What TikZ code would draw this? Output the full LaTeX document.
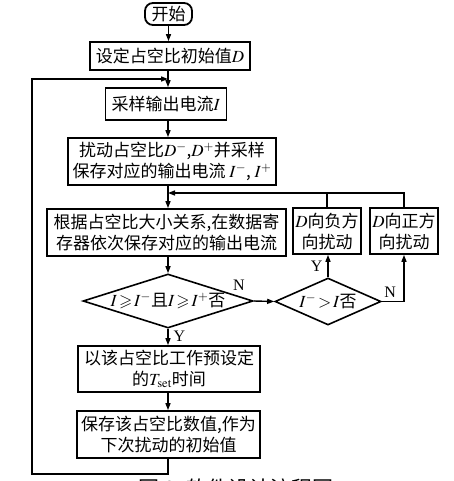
\documentclass[tikz,border=0pt]{standalone}
\usepackage{amssymb}
\usepackage{mathptmx}
\usepackage{fontspec}
\setmainfont{Liberation Serif}
\newfontfamily\cjk{Noto Sans CJK SC}
\usetikzlibrary{shapes.geometric,arrows.meta}
\tikzset{
  every node/.style={font=\cjk\fontsize{17}{21}\selectfont, inner sep=1pt, align=center},
  boxstyle/.style={draw, line width=1.8pt, minimum width=#1, minimum height=46pt},
  decision/.style={draw, line width=1.6pt, diamond, aspect=3.1, inner sep=0pt},
  conn/.style={line width=1.4pt},
  arr/.style={conn, -{Triangle[length=7pt,width=5pt]}},
  lbl/.style={font=\fontsize{16}{18}\selectfont}
}
\begin{document}
\begin{tikzpicture}[x=1pt,y=-1pt]
\clip (0,0) rectangle (453,481);
\useasboundingbox (0,0) rectangle (453,481);
\node[draw, line width=1.8pt, rounded corners=8pt, minimum width=47pt, minimum height=22pt] (start) at (168.5,14) {开始};
\node[boxstyle=160pt, minimum height=28pt] (b1) at (170,56) {设定占空比初始值$D$};
\node[boxstyle=121pt, minimum height=32pt] (b2) at (166,104) {采样输出电流$I$};
\node[boxstyle=208pt, minimum height=47pt] (b3) at (172,161.5) {扰动占空比$D^-$,$D^+$并采样\\保存对应的输出电流 $I^-$, $I^+$};
\node[boxstyle=239pt, minimum height=47pt] (b4) at (166.5,232.5) {根据占空比大小关系,在数据寄\\存器依次保存对应的输出电流};
\node[boxstyle=68pt, minimum height=46pt] (bneg) at (327,231) {$D$向负方\\向扰动};
\node[boxstyle=68pt, minimum height=46pt] (bpos) at (404,231) {$D$向正方\\向扰动};
\node[decision, minimum width=170pt, minimum height=54pt] (d1) at (168,301) {$I\!\geqslant\! I^-$且$I\!\geqslant\! I^+$否};
\node[decision, minimum width=106pt, minimum height=47pt] (d2) at (328,301.5) {$I^-\!>\!I$否};
\node[boxstyle=182pt, minimum height=46pt] (b5) at (169,369) {以该占空比工作预设定\\的$T_{\mathrm{set}}$时间};
\node[boxstyle=183pt, minimum height=47pt] (b6) at (168.5,434.5) {保存该占空比数值,作为\\下次扰动的初始值};
\coordinate (m1) at (168,79);
\coordinate (m2) at (168,193);
\coordinate (lb) at (32,474);
\draw[arr] (start.south) -- (start.south |- b1.north);
\draw[arr] (b1.south -| m1) -- (m1 |- b2.north);
\draw[arr] (b2.south -| m1) -- (m1 |- b3.north);
\draw[arr] (b3.south -| m1) -- (m1 |- b4.north);
\draw[arr] (b4.south -| d1.north) -- (d1.north);
\draw[arr] (d1.south) -- (d1.south |- b5.north) node[lbl, pos=0.45, right=4pt] {Y};
\draw[arr] (b5.south -| d1.south) -- (d1.south |- b6.north);
\draw[arr] (b6.south -| m1) -- (m1 |- lb) -- (lb) -- (lb |- m1) -- (m1);
\draw[arr] (d1.east) -- (d2.west);
\node[lbl] (nlab) at ([shift={(-15,-16)}]d1.east) {N};
\draw[arr] (d2.north) -- (d2.north |- bneg.south) node[lbl, midway, left=4pt] {Y};
\draw[arr] (d2.east) -| (bpos.south) node[lbl, pos=0.4, above left=2pt] {N};
\draw[conn] (bneg.north) -- (bneg.north |- m2);
\draw[arr] (bpos.north) |- (m2);
\node[font=\cjk\fontsize{21}{24}\selectfont, anchor=base] (cap) at (236,496) {图 3\hspace{10pt}软件设计流程图};
\end{tikzpicture}
\end{document}
